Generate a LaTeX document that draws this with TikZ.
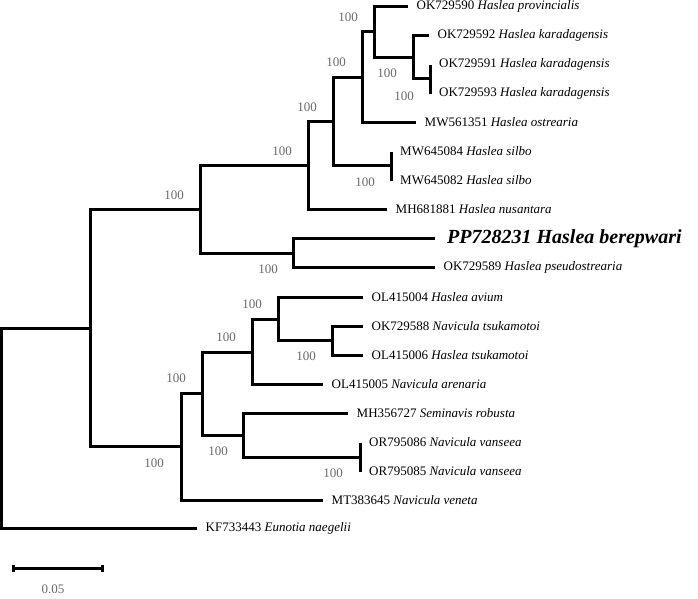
\documentclass[tikz,border=0pt]{standalone}
\usepackage{fontspec}
\setmainfont{Liberation Serif}
\definecolor{suppgray}{RGB}{105,105,105}
\begin{document}
\begin{tikzpicture}[x=1pt,y=-1pt,
  br/.style={line width=3pt,line join=miter,line cap=butt},
  leaf/.style={anchor=west,inner xsep=8.5pt,inner ysep=1pt,font=\fontsize{13}{15}\selectfont},
  bigleaf/.style={anchor=west,inner xsep=12pt,inner ysep=1pt,font=\fontsize{20}{24}\selectfont\bfseries\itshape},
  supp/.style={text=suppgray,inner sep=0pt,font=\fontsize{13}{15}\selectfont}]
\useasboundingbox (0,0) rectangle (698,598);
% internal nodes
\coordinate (root) at (1.5,428.5);
\coordinate (n90) at (90.5,328.5);
\coordinate (n200) at (200.5,209.5);
\coordinate (n308) at (308.5,165.5);
\coordinate (n333) at (333.5,121.5);
\coordinate (n362) at (362.5,77.5);
\coordinate (n374) at (374.5,31.5);
\coordinate (n413) at (413.5,57.5);
\coordinate (n430) at (430.5,78.5);
\coordinate (n391) at (391.5,165.5);
\coordinate (n293) at (293.5,253.5);
\coordinate (n181) at (181.5,446.5);
\coordinate (n202) at (202.5,393.5);
\coordinate (n252) at (252.5,352.5);
\coordinate (n278) at (278.5,319.5);
\coordinate (n332) at (332.5,340.5);
\coordinate (n243) at (243.5,435.5);
\coordinate (n360) at (360.5,457.5);
% leaves
\node[leaf] (l1) at (408,6.5) {OK729590 \textit{Haslea provincialis}};
\node[leaf] (l2) at (429,35.5) {OK729592 \textit{Haslea karadagensis}};
\node[leaf] (l3) at (430.5,64.5) {OK729591 \textit{Haslea karadagensis}};
\node[leaf] (l4) at (430.5,93.5) {OK729593 \textit{Haslea karadagensis}};
\node[leaf] (l5) at (416,122.5) {MW561351 \textit{Haslea ostrearia}};
\node[leaf] (l6) at (391.5,151.5) {MW645084 \textit{Haslea silbo}};
\node[leaf] (l7) at (391.5,180.5) {MW645082 \textit{Haslea silbo}};
\node[leaf] (l8) at (387,209.5) {MH681881 \textit{Haslea nusantara}};
\node[bigleaf] (l9) at (435,238.5) {PP728231 Haslea berepwari};
\node[leaf] (l10) at (435,267.5) {OK729589 \textit{Haslea pseudostrearia}};
\node[leaf] (l11) at (363,297.5) {OL415004 \textit{Haslea avium}};
\node[leaf] (l12) at (363,326.5) {OK729588 \textit{Navicula tsukamotoi}};
\node[leaf] (l13) at (363,355.5) {OL415006 \textit{Haslea tsukamotoi}};
\node[leaf] (l14) at (323,384.5) {OL415005 \textit{Navicula arenaria}};
\node[leaf] (l15) at (348,413.5) {MH356727 \textit{Seminavis robusta}};
\node[leaf] (l16) at (360.5,442.5) {OR795086 \textit{Navicula vanseea}};
\node[leaf] (l17) at (360.5,471.5) {OR795085 \textit{Navicula vanseea}};
\node[leaf] (l18) at (323,500.5) {MT383645 \textit{Navicula veneta}};
\node[leaf] (l19) at (197,528.5) {KF733443 \textit{Eunotia naegelii}};
% branches
\draw[br] (root) |- (n90);
\draw[br] (root) |- (l19.west);
\draw[br] (n90) |- (n200);
\draw[br] (n90) |- (n181);
\draw[br] (n200) |- (n308);
\draw[br] (n200) |- (n293);
\draw[br] (n308) |- (n333);
\draw[br] (n308) |- (l8.west);
\draw[br] (n333) |- (n362);
\draw[br] (n333) |- (n391);
\draw[br] (n362) |- (n374);
\draw[br] (n362) |- (l5.west);
\draw[br] (n374) |- (l1.west);
\draw[br] (n374) |- (n413);
\draw[br] (n413) |- (l2.west);
\draw[br] (n413) |- (n430);
\draw[br] (n430) -- (l3.west);
\draw[br] (n430) -- (l4.west);
\draw[br] (n391) -- (l6.west);
\draw[br] (n391) -- (l7.west);
\draw[br] (n293) |- (l9.west);
\draw[br] (n293) |- (l10.west);
\draw[br] (n181) |- (n202);
\draw[br] (n181) |- (l18.west);
\draw[br] (n202) |- (n252);
\draw[br] (n202) |- (n243);
\draw[br] (n252) |- (n278);
\draw[br] (n252) |- (l14.west);
\draw[br] (n278) |- (l11.west);
\draw[br] (n278) |- (n332);
\draw[br] (n332) |- (l12.west);
\draw[br] (n332) |- (l13.west);
\draw[br] (n243) |- (l15.west);
\draw[br] (n243) |- (n360);
\draw[br] (n360) -- (l16.west);
\draw[br] (n360) -- (l17.west);
% support values
\node[supp] (s374) at (348,17) {100};
\node[supp] (s362) at (336,62) {100};
\node[supp] (s413) at (387,73) {100};
\node[supp] (s430) at (404,96) {100};
\node[supp] (s333) at (307,107) {100};
\node[supp] (s308) at (282,151) {100};
\node[supp] (s391) at (365,182) {100};
\node[supp] (s293) at (268,269) {100};
\node[supp] (s200) at (174,195) {100};
\node[supp] (s278) at (252,304) {100};
\node[supp] (s252) at (226,337) {100};
\node[supp] (s332) at (306,356) {100};
\node[supp] (s202) at (176,378) {100};
\node[supp] (s243) at (218,451) {100};
\node[supp] (s360) at (333,473) {100};
\node[supp] (s181) at (154,463) {100};
% scale bar
\coordinate (sb1) at (13.5,568.5);
\coordinate (sb2) at (102.5,568.5);
\draw[line width=3pt] (sb1) -- (sb2);
\draw[line width=2.5pt] ([yshift=-3.5pt]sb1) -- ([yshift=3.5pt]sb1);
\draw[line width=2.5pt] ([yshift=-3.5pt]sb2) -- ([yshift=3.5pt]sb2);
\node[supp] (sblabel) at (53,589) {0.05};
\end{tikzpicture}
\end{document}
